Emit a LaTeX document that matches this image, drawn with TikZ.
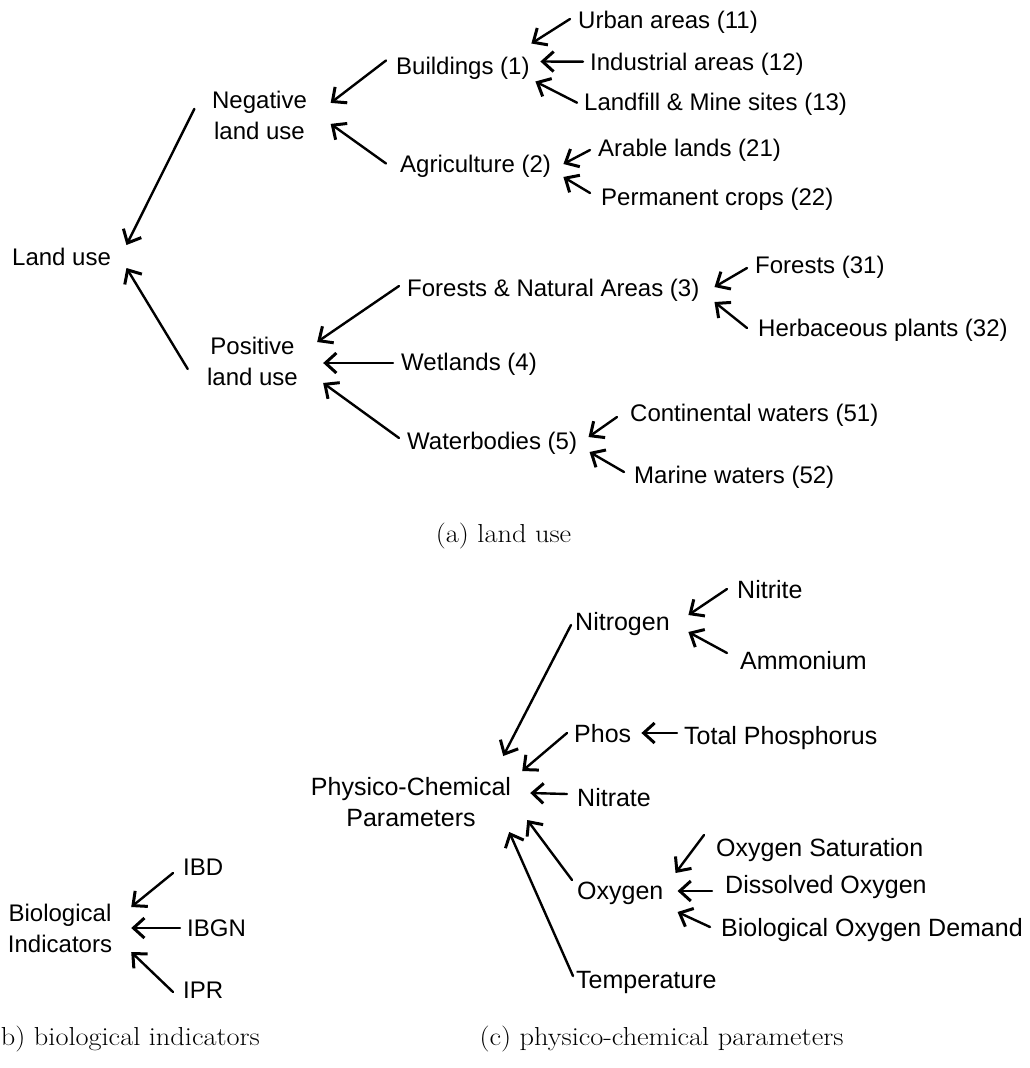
\documentclass[tikz,border=0pt]{standalone}
\usepackage{graphicx}
\usepackage{fontspec}
\newfontfamily\sansf{Liberation Sans}
\usetikzlibrary{arrows.meta}
\begin{document}
\begin{tikzpicture}[x=1pt,y=-1pt,
  lbl/.style={inner sep=0pt, anchor=west, text height=17pt, text depth=0pt,
              font=\sansf\fontsize{24}{31}\selectfont},
  lblc/.style={lbl, text height=18pt, font=\sansf\fontsize{25}{31}\selectfont},
  two/.style={inner sep=0pt, anchor=north, align=center,
              font=\sansf\fontsize{24}{31}\selectfont},
  twoc/.style={two, font=\sansf\fontsize{25}{31}\selectfont},
  capt/.style={inner sep=0pt, font=\fontsize{26}{30}\selectfont},
  arr/.style={-{Straight Barb[length=11pt,width=20pt,line width=3pt]}, line width=2.4pt, line cap=round}]
\useasboundingbox (0,0) rectangle (1030,1068);

% ---------------- (a) land use ----------------
\node[lbl] (land) at (12,257) {Land use};
\node[two] (neg) at (259.5,91.4) {Negative\\land use};
\node[two] (pos) at (252.5,337.1) {Positive\\land use};
\node[lbl] (bld) at (396,65.5) {Buildings (1)};
\node[lbl] (agr) at (400,163.5) {Agriculture (2)};
\node[lbl] (urb) at (578,20) {Urban areas (11)};
\node[lbl] (ind) at (590,61.7) {Industrial areas (12)};
\node[lbl] (lnd) at (584,101.7) {Landfill \& Mine sites (13)};
\node[lbl] (ara) at (598,148) {Arable lands (21)};
\node[lbl] (per) at (601,197) {Permanent crops (22)};
\node[lbl] (fna) at (407,288) {Forests \& Natural Areas (3)};
\node[lbl] (wet) at (401,362) {Wetlands (4)};
\node[lbl] (wat) at (407,441) {Waterbodies (5)};
\node[lbl] (f31) at (755,265) {Forests (31)};
\node[lbl] (herb) at (758,328) {Herbaceous plants (32)};
\node[lbl] (cont) at (630,413) {Continental waters (51)};
\node[lbl] (mar) at (634,475) {Marine waters (52)};
\node[capt] (capa) at (503.5,536) {\scalebox{1.09}[1]{(a) land use}};

\draw[arr] ([shift={(-17.6,17.5)}]neg.north west) -- ([shift={(15.3,-12)}]land.east);
\draw[arr] ([shift={(-19.2,31.9)}]pos.north west) -- ([shift={(15.3,11)}]land.east);
\draw[arr] ([shift={(-10,-5)}]bld.west) -- ([shift={(23.6,11.5)}]neg.north east);
\draw[arr] ([shift={(-14,0)}]agr.west) -- ([shift={(23.6,32.5)}]neg.north east);
\draw[arr] ([shift={(-8,-1)}]urb.west) -- ([shift={(1.6,-22)}]bld.east);
\draw[arr] ([shift={(-7,0)}]ind.west) -- ([shift={(10.6,-4)}]bld.east);
\draw[arr] ([shift={(-7,1)}]lnd.west) -- ([shift={(5.6,16)}]bld.east);
\draw[arr] ([shift={(-8,2)}]ara.west) -- ([shift={(12.3,0.5)}]agr.east);
\draw[arr] ([shift={(-11,-4)}]per.west) -- ([shift={(12.3,13.5)}]agr.east);
\draw[arr] ([shift={(-8,-2)}]fna.west) -- ([shift={(19.1,4.9)}]pos.north east);
\draw[arr] ([shift={(-8,1)}]wet.west) -- ([shift={(25.1,25.9)}]pos.north east);
\draw[arr] ([shift={(-8,-3)}]wat.west) -- ([shift={(25.1,45.9)}]pos.north east);
\draw[arr] ([shift={(-8,3)}]f31.west) -- ([shift={(15,-1)}]fna.east);
\draw[arr] ([shift={(-11,0)}]herb.west) -- ([shift={(15,14)}]fna.east);
\draw[arr] ([shift={(-13,4)}]cont.west) -- ([shift={(11.3,-4)}]wat.east);
\draw[arr] ([shift={(-10,-3)}]mar.west) -- ([shift={(12.3,11)}]wat.east);

% ---------------- (b) biological indicators ----------------
\node[two] (bio) at (60,903.4) {Biological\\Indicators};
\node[lbl] (ibd) at (183,867) {IBD};
\node[lbl] (ibgn) at (187,928) {IBGN};
\node[lbl] (ipr) at (183,990) {IPR};
\node[capt, anchor=east] (capb) at (260,1039) {\scalebox{1.09}[1]{(b) biological indicators}};

\draw[arr] ([shift={(-10,6)}]ibd.west) -- ([shift={(19,3.6)}]bio.north east);
\draw[arr] ([shift={(-7,0)}]ibgn.west) -- ([shift={(19,24.6)}]bio.north east);
\draw[arr] ([shift={(-10,2)}]ipr.west) -- ([shift={(19,48.6)}]bio.north east);

% ---------------- (c) physico-chemical parameters ----------------
\node[twoc] (pcp) at (411,777) {Physico-Chemical\\Parameters};
\node[lblc] (nitg) at (575,621) {Nitrogen};
\node[lblc] (nite) at (737,589) {Nitrite};
\node[lblc] (amm) at (740,660) {Ammonium};
\node[lblc] (phos) at (574,733) {Phos};
\node[lblc] (tp) at (684,735) {Total Phosphorus};
\node[lblc] (nitr) at (577,797) {Nitrate};
\node[lblc] (oxy) at (577,890) {Oxygen};
\node[lblc] (osat) at (716,847) {Oxygen Saturation};
\node[lblc] (dis) at (725,884) {Dissolved Oxygen};
\node[lblc] (bod) at (721,927) {Biological Oxygen Demand};
\node[lblc] (temp) at (576,979) {Temperature};
\node[capt] (capc) at (661.5,1039) {\scalebox{1.09}[1]{(c) physico-chemical parameters}};

\draw[arr] ([shift={(-4,4)}]nitg.west) -- ([shift={(-8,-21)}]pcp.north east);
\draw[arr] ([shift={(-7,0)}]phos.west) -- ([shift={(11,-6)}]pcp.north east);
\draw[arr] ([shift={(-7,-2)}]tp.west) -- ([shift={(10,0)}]phos.east);
\draw[arr] ([shift={(-10,0)}]nite.west) -- ([shift={(18.5,-6)}]nitg.east);
\draw[arr] ([shift={(-13,-7)}]amm.west) -- ([shift={(18.5,11)}]nitg.east);
\draw[arr] ([shift={(-10,-3)}]nitr.west) -- ([shift={(19,16)}]pcp.north east);
\draw[arr] ([shift={(-5,-10)}]oxy.west) -- ([shift={(16,43)}]pcp.north east);
\draw[arr] ([shift={(-3,-3)}]temp.west) -- ([shift={(-2,55)}]pcp.north east);
\draw[arr] ([shift={(-12,-12)}]osat.west) -- ([shift={(12,-17)}]oxy.east);
\draw[arr] ([shift={(-13,7)}]dis.west) -- ([shift={(14,1)}]oxy.east);
\draw[arr] ([shift={(-11,0)}]bod.west) -- ([shift={(14,22)}]oxy.east);
\end{tikzpicture}
\end{document}
